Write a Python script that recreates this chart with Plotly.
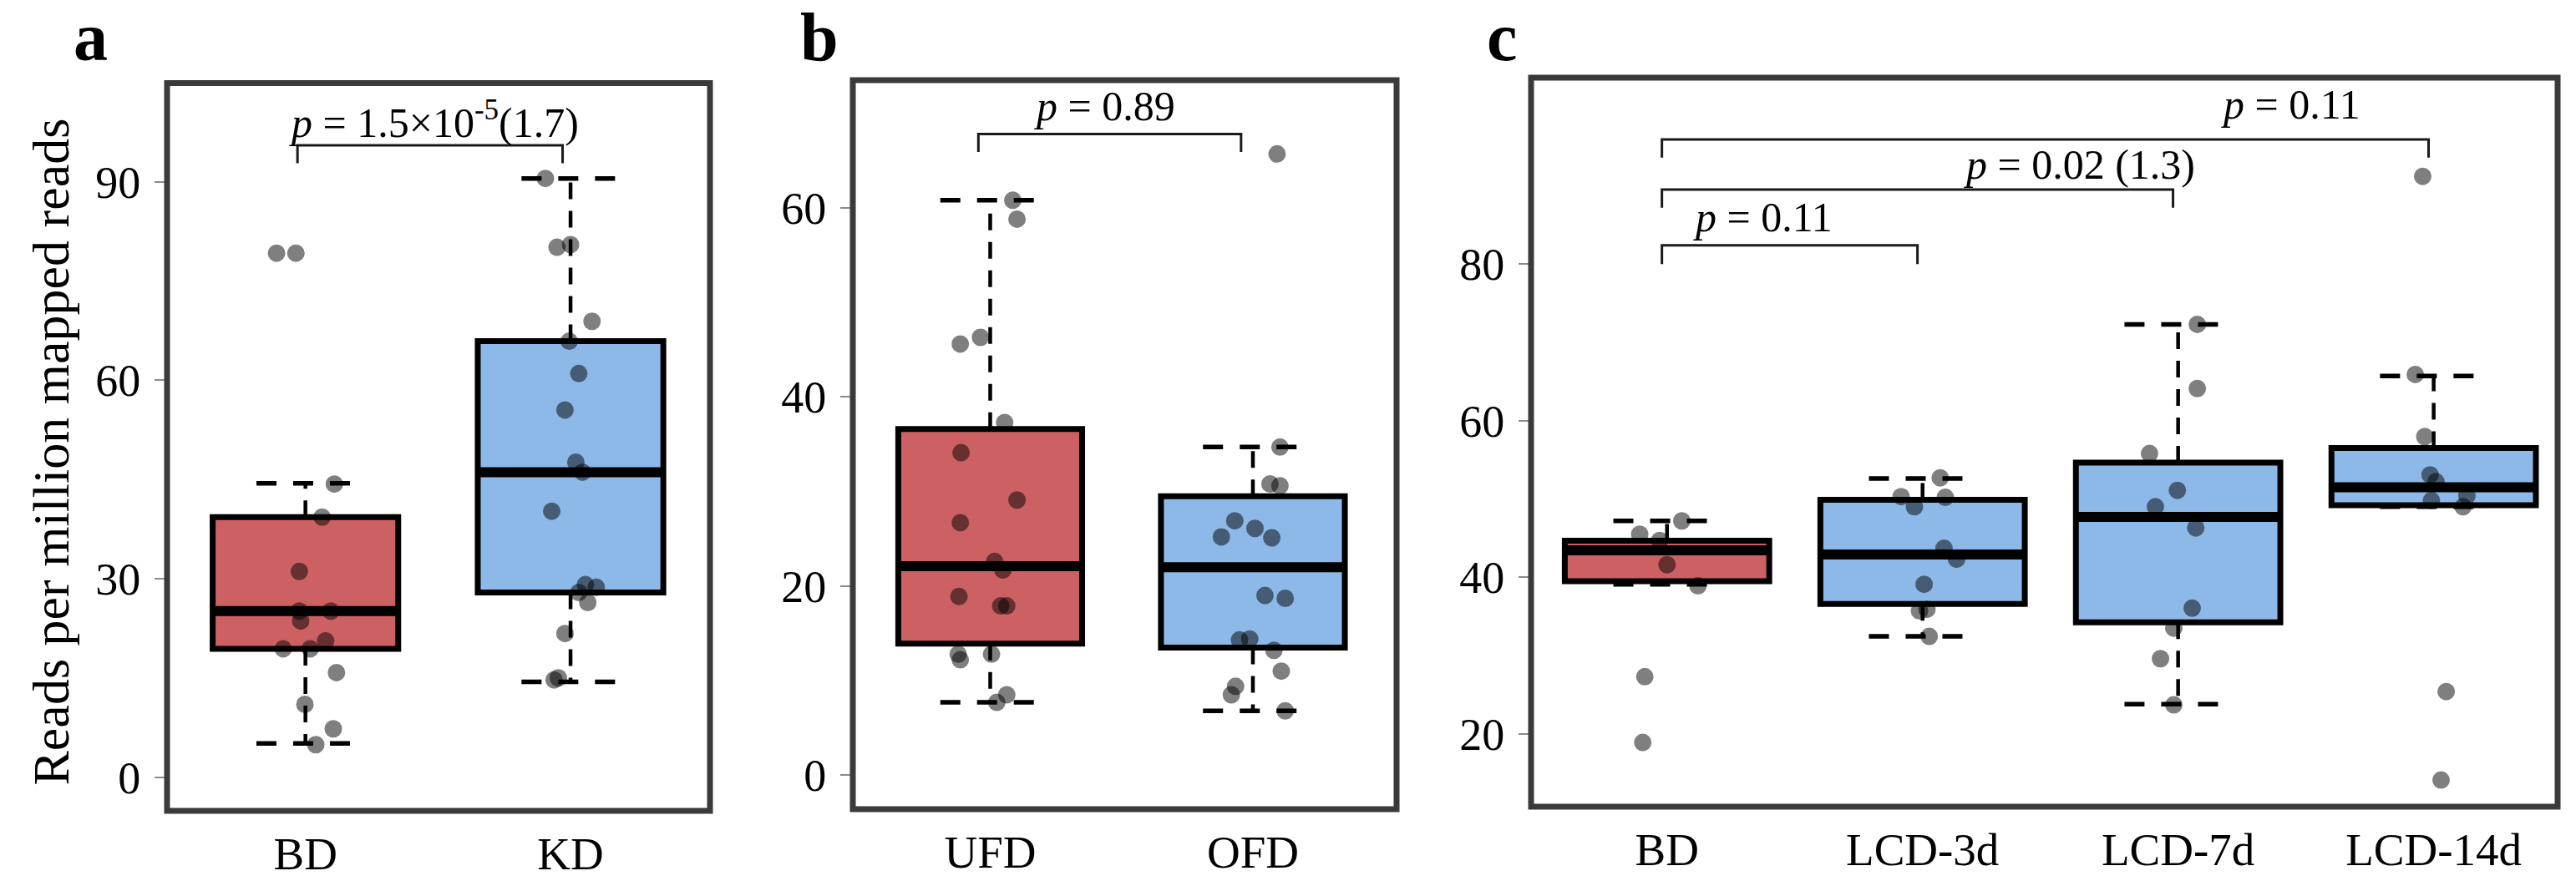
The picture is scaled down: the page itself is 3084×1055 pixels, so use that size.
import plotly.graph_objects as go

W, H = 3084, 1055
FONT = "Liberation Serif, Times New Roman, Times, serif"

# ---------------- data ----------------
# panel a
a_cats = ["BD", "KD"]
a_q1 = [19.4, 27.9]
a_med = [25.1, 46.1]
a_q3 = [39.3, 65.9]
a_lo = [5.1, 14.4]
a_hi = [44.4, 90.5]
a_BD_vals = [79.2, 79.2, 44.3, 39.3, 31.1, 25.1, 25.1, 23.6, 19.4, 19.4, 20.6, 15.8, 11.0, 7.3, 4.9]
a_BD_jit = [-0.109, -0.036, 0.109, 0.063, -0.023, -0.023, 0.096, -0.018, -0.084, 0.018, 0.076, 0.117, -0.002, 0.105, 0.039]
a_KD_vals = [90.5, 80.1, 80.5, 68.9, 65.9, 61.0, 55.5, 47.6, 46.1, 40.2, 29.1, 28.7, 27.9, 26.4, 21.7, 14.7, 15.0]
a_KD_jit = [-0.095, -0.051, 0.0, 0.081, -0.005, 0.031, -0.021, 0.020, 0.045, -0.071, 0.056, 0.097, 0.031, 0.065, -0.021, -0.062, -0.046]
a_yticks = [0, 30, 60, 90]
a_br_left = [1]
a_br_right = [2]
a_br_top = [95.5]
a_br_drop = [92.8]
a_p_text = ["<i>p</i> = 1.5×10<sup>-5</sup>(1.7)"]
a_p_x = [1.486]
a_p_y = [96.6]

# panel b
b_cats = ["UFD", "OFD"]
b_q1 = [13.9, 13.5]
b_med = [22.1, 22.0]
b_q3 = [36.6, 29.5]
b_lo = [7.7, 6.8]
b_hi = [60.8, 34.7]
b_UFD_vals = [60.8, 58.8, 45.6, 46.3, 37.3, 34.1, 29.1, 26.7, 22.6, 21.7, 18.9, 17.9, 17.9, 12.8, 12.2, 12.8, 8.5, 7.7]
b_UFD_jit = [0.086, 0.102, -0.114, -0.037, 0.055, -0.111, 0.102, -0.114, 0.017, 0.048, -0.119, 0.040, 0.063, -0.122, -0.114, 0.005, 0.063, 0.025]
b_OFD_vals = [65.7, 34.7, 30.8, 30.6, 26.9, 25.2, 26.1, 25.1, 19.0, 18.7, 14.3, 14.4, 13.2, 11.0, 9.4, 8.5, 6.8]
b_OFD_jit = [0.092, 0.103, 0.065, 0.103, -0.069, -0.12, 0.008, 0.072, 0.046, 0.123, -0.051, -0.012, 0.080, 0.108, -0.066, -0.082, 0.123]
b_yticks = [0, 20, 40, 60]
b_br_left = [1]
b_br_right = [2]
b_br_top = [67.8]
b_br_drop = [65.9]
b_p_text = ["<i>p</i> = 0.89"]
b_p_x = [1.436]
b_p_y = [69.2]

# panel c
c_cats = ["BD", "LCD-3d", "LCD-7d", "LCD-14d"]
c_q1 = [39.5, 36.6, 34.25, 49.2]
c_med = [43.45, 42.9, 47.7, 51.5]
c_q3 = [44.67, 49.9, 54.65, 56.5]
c_lo = [39.1, 32.45, 23.8, 49.0]
c_hi = [47.2, 52.6, 72.3, 65.7]
c_BD_vals = [47.2, 45.5, 44.7, 41.6, 38.9, 27.3, 18.9]
c_BD_jit = [0.058, -0.107, -0.029, 0.0, 0.121, -0.087, -0.095]
c_3d_vals = [52.7, 50.3, 50.2, 49.0, 43.7, 42.3, 39.1, 35.7, 35.9, 32.45]
c_3d_jit = [0.069, -0.084, 0.089, -0.032, 0.084, 0.133, 0.006, -0.012, 0.017, 0.026]
c_7d_vals = [72.3, 64.1, 55.8, 51.1, 49.0, 46.3, 36.05, 33.5, 29.6, 23.7]
c_7d_jit = [0.075, 0.075, -0.112, -0.003, -0.089, 0.069, 0.055, -0.017, -0.069, -0.017]
c_14d_vals = [91.2, 65.9, 57.96, 53.07, 52.2, 49.8, 50.4, 49.0, 25.4, 14.1]
c_14d_jit = [-0.043, -0.072, -0.035, -0.014, 0.009, -0.009, 0.13, 0.115, 0.049, 0.029]
c_yticks = [20, 40, 60, 80]
c_br_left = [1, 1, 1]
c_br_right = [2, 3, 4]
c_br_top = [82.4, 89.5, 95.9]
c_br_drop = [80.0, 87.2, 93.6]
c_p_text = ["<i>p</i> = 0.11", "<i>p</i> = 0.02 (1.3)", "<i>p</i> = 0.11"]
c_p_x = [1.374, 2.615, 3.442]
c_p_y = [84.1, 90.8, 98.5]

# ---------------- style ----------------
RED = "#CD6062"
BLUE = "#8DB9E8"
DOT = "rgba(0,0,0,0.5)"
FRAME = "#3a3a3a"

panels = [
    dict(s="", cats=a_cats, q1=a_q1, med=a_med, q3=a_q3, lo=a_lo, hi=a_hi,
         pts=[a_BD_vals, a_KD_vals], jit=[a_BD_jit, a_KD_jit], colors=[RED, BLUE],
         bw=0.70, cw=0.37, xr=[0.478, 2.526], yr=[-5.1, 104.9], yt=a_yticks,
         brl=a_br_left, brr=a_br_right, brt=a_br_top, brd=a_br_drop, brdx=-0.03,
         pt=a_p_text, px=a_p_x, py=a_p_y,
         xd=[200 / W, 850 / W], yd=[1 - 971 / H, 1 - 99.6 / H]),
    dict(s="2", cats=b_cats, q1=b_q1, med=b_med, q3=b_q3, lo=b_lo, hi=b_hi,
         pts=[b_UFD_vals, b_OFD_vals], jit=[b_UFD_jit, b_OFD_jit], colors=[RED, BLUE],
         bw=0.70, cw=0.38, xr=[0.477, 2.547], yr=[-3.6, 73.5], yt=b_yticks,
         brl=b_br_left, brr=b_br_right, brt=b_br_top, brd=b_br_drop, brdx=-0.045,
         pt=b_p_text, px=b_p_x, py=b_p_y,
         xd=[1021 / W, 1672 / W], yd=[1 - 969 / H, 1 - 96 / H]),
    dict(s="3", cats=c_cats, q1=c_q1, med=c_med, q3=c_q3, lo=c_lo, hi=c_hi,
         pts=[c_BD_vals, c_3d_vals, c_7d_vals, c_14d_vals],
         jit=[c_BD_jit, c_3d_jit, c_7d_jit, c_14d_jit], colors=[RED, BLUE, BLUE, BLUE],
         bw=0.80, cw=0.42, xr=[0.468, 4.485], yr=[10.7, 103.8], yt=c_yticks,
         brl=c_br_left, brr=c_br_right, brt=c_br_top, brd=c_br_drop, brdx=-0.02,
         pt=c_p_text, px=c_p_x, py=c_p_y,
         xd=[1833 / W, 3062 / W], yd=[1 - 966 / H, 1 - 93 / H]),
]

fig = go.Figure()
annotations = []
shapes = []
layout_axes = {}

for p in panels:
    xa, ya = "x" + p["s"], "y" + p["s"]
    n = len(p["cats"])
    pos = list(range(1, n + 1))
    # boxes
    for i in range(n):
        fig.add_trace(go.Box(
            x=[pos[i]], q1=[p["q1"][i]], median=[p["med"][i]], q3=[p["q3"][i]],
            lowerfence=[p["q1"][i]], upperfence=[p["q3"][i]],
            width=p["bw"], fillcolor=p["colors"][i],
            line=dict(color="black", width=7), whiskerwidth=0,
            boxpoints=False, xaxis=xa, yaxis=ya, showlegend=False, hoverinfo="skip"))
    # whiskers (dashed) outside the box
    for i in range(n):
        fig.add_trace(go.Scatter(
            x=[pos[i], pos[i], None, pos[i], pos[i]],
            y=[p["q3"][i], p["hi"][i], None, p["q1"][i], p["lo"][i]],
            mode="lines", line=dict(color="black", width=4.5, dash="20px,14px"),
            xaxis=xa, yaxis=ya, showlegend=False, hoverinfo="skip"))
        hw = p["cw"] / 2
        fig.add_trace(go.Scatter(
            x=[pos[i] - hw, pos[i] + hw, None, pos[i] - hw, pos[i] + hw],
            y=[p["hi"][i], p["hi"][i], None, p["lo"][i], p["lo"][i]],
            mode="lines", line=dict(color="black", width=5.5, dash="24px,20px"),
            xaxis=xa, yaxis=ya, showlegend=False, hoverinfo="skip"))
        # thick median
        bh = p["bw"] / 2
        fig.add_trace(go.Scatter(
            x=[pos[i] - bh, pos[i] + bh], y=[p["med"][i], p["med"][i]],
            mode="lines", line=dict(color="black", width=12),
            xaxis=xa, yaxis=ya, showlegend=False, hoverinfo="skip"))
    # brackets
    for j in range(len(p["brl"])):
        xl = p["brl"][j] + p["brdx"]
        xr = p["brr"][j] + p["brdx"]
        fig.add_trace(go.Scatter(
            x=[xl, xl, xr, xr],
            y=[p["brd"][j], p["brt"][j], p["brt"][j], p["brd"][j]],
            mode="lines", line=dict(color="#1a1a1a", width=3),
            xaxis=xa, yaxis=ya, showlegend=False, hoverinfo="skip"))
        annotations.append(dict(
            x=p["px"][j], y=p["py"][j], xref=xa, yref=ya, text=p["pt"][j],
            showarrow=False, xanchor="center", yanchor="bottom", yshift=-12,
            font=dict(family=FONT, size=50, color="black")))
    # points
    for i in range(n):
        fig.add_trace(go.Scatter(
            x=[pos[i] + d for d in p["jit"][i]], y=p["pts"][i],
            mode="markers", marker=dict(size=21, color=DOT, line=dict(width=0)),
            xaxis=xa, yaxis=ya, showlegend=False, hoverinfo="skip"))
    # axes
    layout_axes["xaxis" + p["s"]] = dict(
        domain=p["xd"], range=p["xr"], anchor=ya, tickmode="array",
        tickvals=pos, ticktext=p["cats"], ticks="", showgrid=False, zeroline=False,
        showline=False, ticklabelstandoff=14,
        tickfont=dict(family=FONT, size=55, color="black"))
    layout_axes["yaxis" + p["s"]] = dict(
        domain=p["yd"], range=p["yr"], anchor=xa, tickmode="array",
        tickvals=p["yt"], ticks="outside", ticklen=14, tickwidth=2, tickcolor="#8a8a8a",
        showgrid=False, zeroline=False, showline=False, ticklabelstandoff=6,
        tickfont=dict(family=FONT, size=54, color="black"))
    shapes.append(dict(type="rect", xref=xa + " domain", yref=ya + " domain",
                       x0=0, x1=1, y0=0, y1=1, line=dict(color=FRAME, width=7),
                       layer="above"))

# panel letters
for letter, lx in [("a", 86), ("b", 956), ("c", 1778)]:
    annotations.append(dict(
        x=lx / W, y=1 - 74 / H, xref="paper", yref="paper", text="<b>" + letter + "</b>",
        showarrow=False, xanchor="left", yanchor="bottom", yshift=-18,
        font=dict(family=FONT, size=82, color="black")))

# y title
annotations.append(dict(
    x=60 / W, y=1 - 541.5 / H, xref="paper", yref="paper",
    text="Reads per million mapped reads", textangle=-90, showarrow=False,
    xanchor="center", yanchor="middle",
    font=dict(family=FONT, size=62, color="black")))

fig.update_layout(
    width=W, height=H, margin=dict(l=0, r=0, t=0, b=0),
    paper_bgcolor="white", plot_bgcolor="white", boxmode="overlay",
    font=dict(family=FONT),
    annotations=annotations, shapes=shapes, showlegend=False,
    **layout_axes)

fig.write_html("out.html")
